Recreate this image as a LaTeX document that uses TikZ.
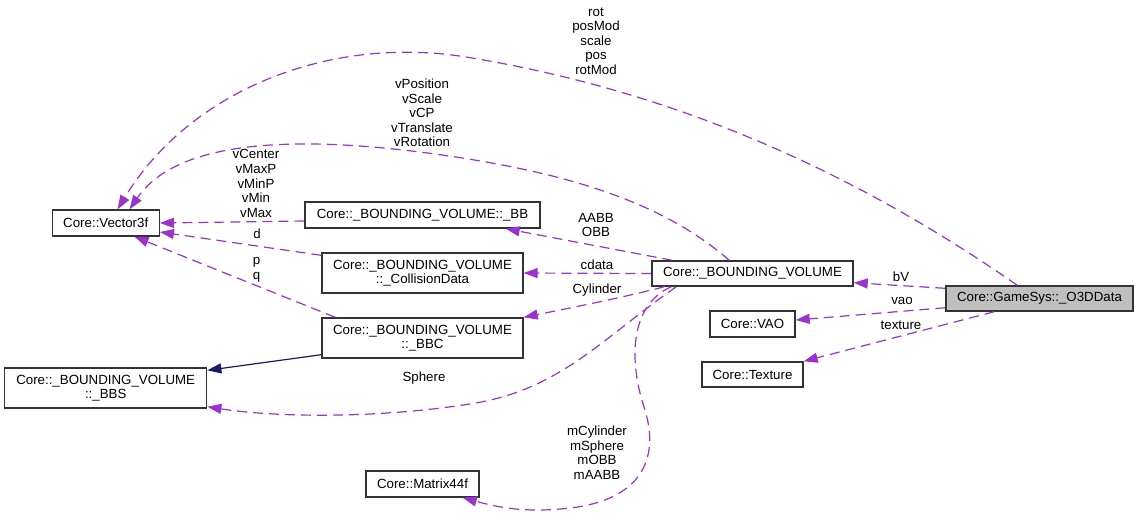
\documentclass[tikz,border=0pt]{standalone}
\usepackage{fontspec}
\setmainfont{Liberation Sans}
\usetikzlibrary{arrows.meta,calc}
\definecolor{usecol}{HTML}{9A32CD}
\definecolor{inhcol}{HTML}{191970}
\definecolor{boxline}{HTML}{333333}
\definecolor{mainfill}{HTML}{BFBFBF}
\begin{document}
\begin{tikzpicture}[x=1pt,y=-1pt,
  font=\fontsize{13.3}{14.6}\selectfont,
  box/.style={draw=boxline, line width=1.4pt, fill=white, inner sep=0pt, align=center},
  lbl/.style={inner sep=0pt, align=center},
  use/.style={draw=usecol, line width=1.2pt, dash pattern=on 10pt off 6pt,
    -{Triangle[length=14pt,width=10pt,fill=usecol]}},
  inh/.style={draw=inhcol, line width=1.2pt,
    -{Triangle[length=14pt,width=10pt,fill=inhcol]}}]
\fill[white] (0,0) rectangle (1139,515);
\useasboundingbox (0,0) rectangle (1139,515);

% nodes
\node[box, minimum width=107pt, minimum height=26pt] (vec) at (105.75,223) {Core::Vector3f};
\node[box, minimum width=235pt, minimum height=26pt] (bb) at (422.5,215) {Core::\_BOUNDING\_VOLUME::\_BB};
\node[box, minimum width=201pt, minimum height=40pt] (cd) at (422.5,273) {Core::\_BOUNDING\_VOLUME\\::\_CollisionData};
\node[box, minimum width=201pt, minimum height=40pt] (bbc) at (422.5,338) {Core::\_BOUNDING\_VOLUME\\::\_BBC};
\node[box, minimum width=202pt, minimum height=40pt] (bbs) at (105.7,388) {Core::\_BOUNDING\_VOLUME\\::\_BBS};
\node[box, minimum width=113pt, minimum height=26pt] (mat) at (422.5,484) {Core::Matrix44f};
\node[box, minimum width=201pt, minimum height=25pt] (bv) at (752.5,273.5) {Core::\_BOUNDING\_VOLUME};
\node[box, minimum width=85pt, minimum height=26pt] (vao) at (752.5,324) {Core::VAO};
\node[box, minimum width=101pt, minimum height=25pt] (tex) at (752.5,374.5) {Core::Texture};
\node[box, fill=mainfill, minimum width=187pt, minimum height=25pt] (o3d) at (1039.5,298.5) {Core::GameSys::\_O3DData};

% edges
\draw[use] ($(o3d.north west)+(72,0)$) .. controls (880,190) and (700,95) .. (466,57)
  .. controls (330,35) and (190,90) .. ($(vec.north west)+(66,0)$);
\draw[use] ($(bv.north west)+(78,0)$) .. controls (660,200) and (560,170) .. (420,152)
  .. controls (260,132) and (170,150) .. ($(vec.north west)+(78,0)$);
\draw[use] ($(bv.north west)+(21,0)$) -- ($(bb.south east)+(-35,0)$);
\draw[use] (bv.west) -- (cd.east);
\draw[use] ($(bv.south west)+(13,0)$) .. controls (630,296) and (570,308) .. (bbc.north east);
\draw[use] ($(bv.south west)+(25,0)$) .. controls (600,340) and (560,390) .. (470,404)
  .. controls (380,418) and (280,418) .. ($(bbs.south east)+(0,-2)$);
\draw[use] ($(bv.south west)+(20,0)$) .. controls (630,305) and (628,360) .. (645,410)
  .. controls (660,460) and (640,500) .. (570,508)
  .. controls (520,514) and (490,505) .. ($(mat.south east)+(-17,0)$);
\draw[use] ($(o3d.north west)+(0,3)$) -- ($(bv.south east)+(0,-4)$);
\draw[use] ($(o3d.south west)+(0,-4)$) -- ($(vao.east)+(0,-4)$);
\draw[use] ($(o3d.south west)+(49,0)$) -- (tex.north east);
\draw[use] ($(bb.west)+(0,6)$) -- (vec.east);
\draw[use] ($(cd.north west)+(0,3)$) -- ($(vec.east)+(0,9)$);
\draw[use] ($(bbc.north west)+(14,0)$) -- ($(vec.south west)+(83,0)$);
\draw[inh] ($(bbc.south west)+(0,-4)$) -- ($(bbs.north east)+(0,3)$);

% labels
\node[lbl] (l1) at (596,41) {rot\\posMod\\scale\\pos\\rotMod};
\node[lbl] (l2) at (422,113) {vPosition\\vScale\\vCP\\vTranslate\\vRotation};
\node[lbl] (l3) at (256,183.5) {vCenter\\vMaxP\\vMinP\\vMin\\vMax};
\node[lbl] (l4) at (257,234) {d};
\node[lbl] (l5) at (256.5,270) {p\\q};
\node[lbl] (l6) at (596,225) {AABB\\OBB};
\node[lbl] (l7) at (597,264.5) {cdata};
\node[lbl] (l8) at (597,290) {Cylinder};
\node[lbl] (l9) at (424,378) {Sphere};
\node[lbl] (l10) at (597,452.5) {mCylinder\\mSphere\\mOBB\\mAABB};
\node[lbl] (l11) at (901,277) {bV};
\node[lbl] (l12) at (902,301) {vao};
\node[lbl] (l13) at (901,325) {texture};
\end{tikzpicture}
\end{document}
